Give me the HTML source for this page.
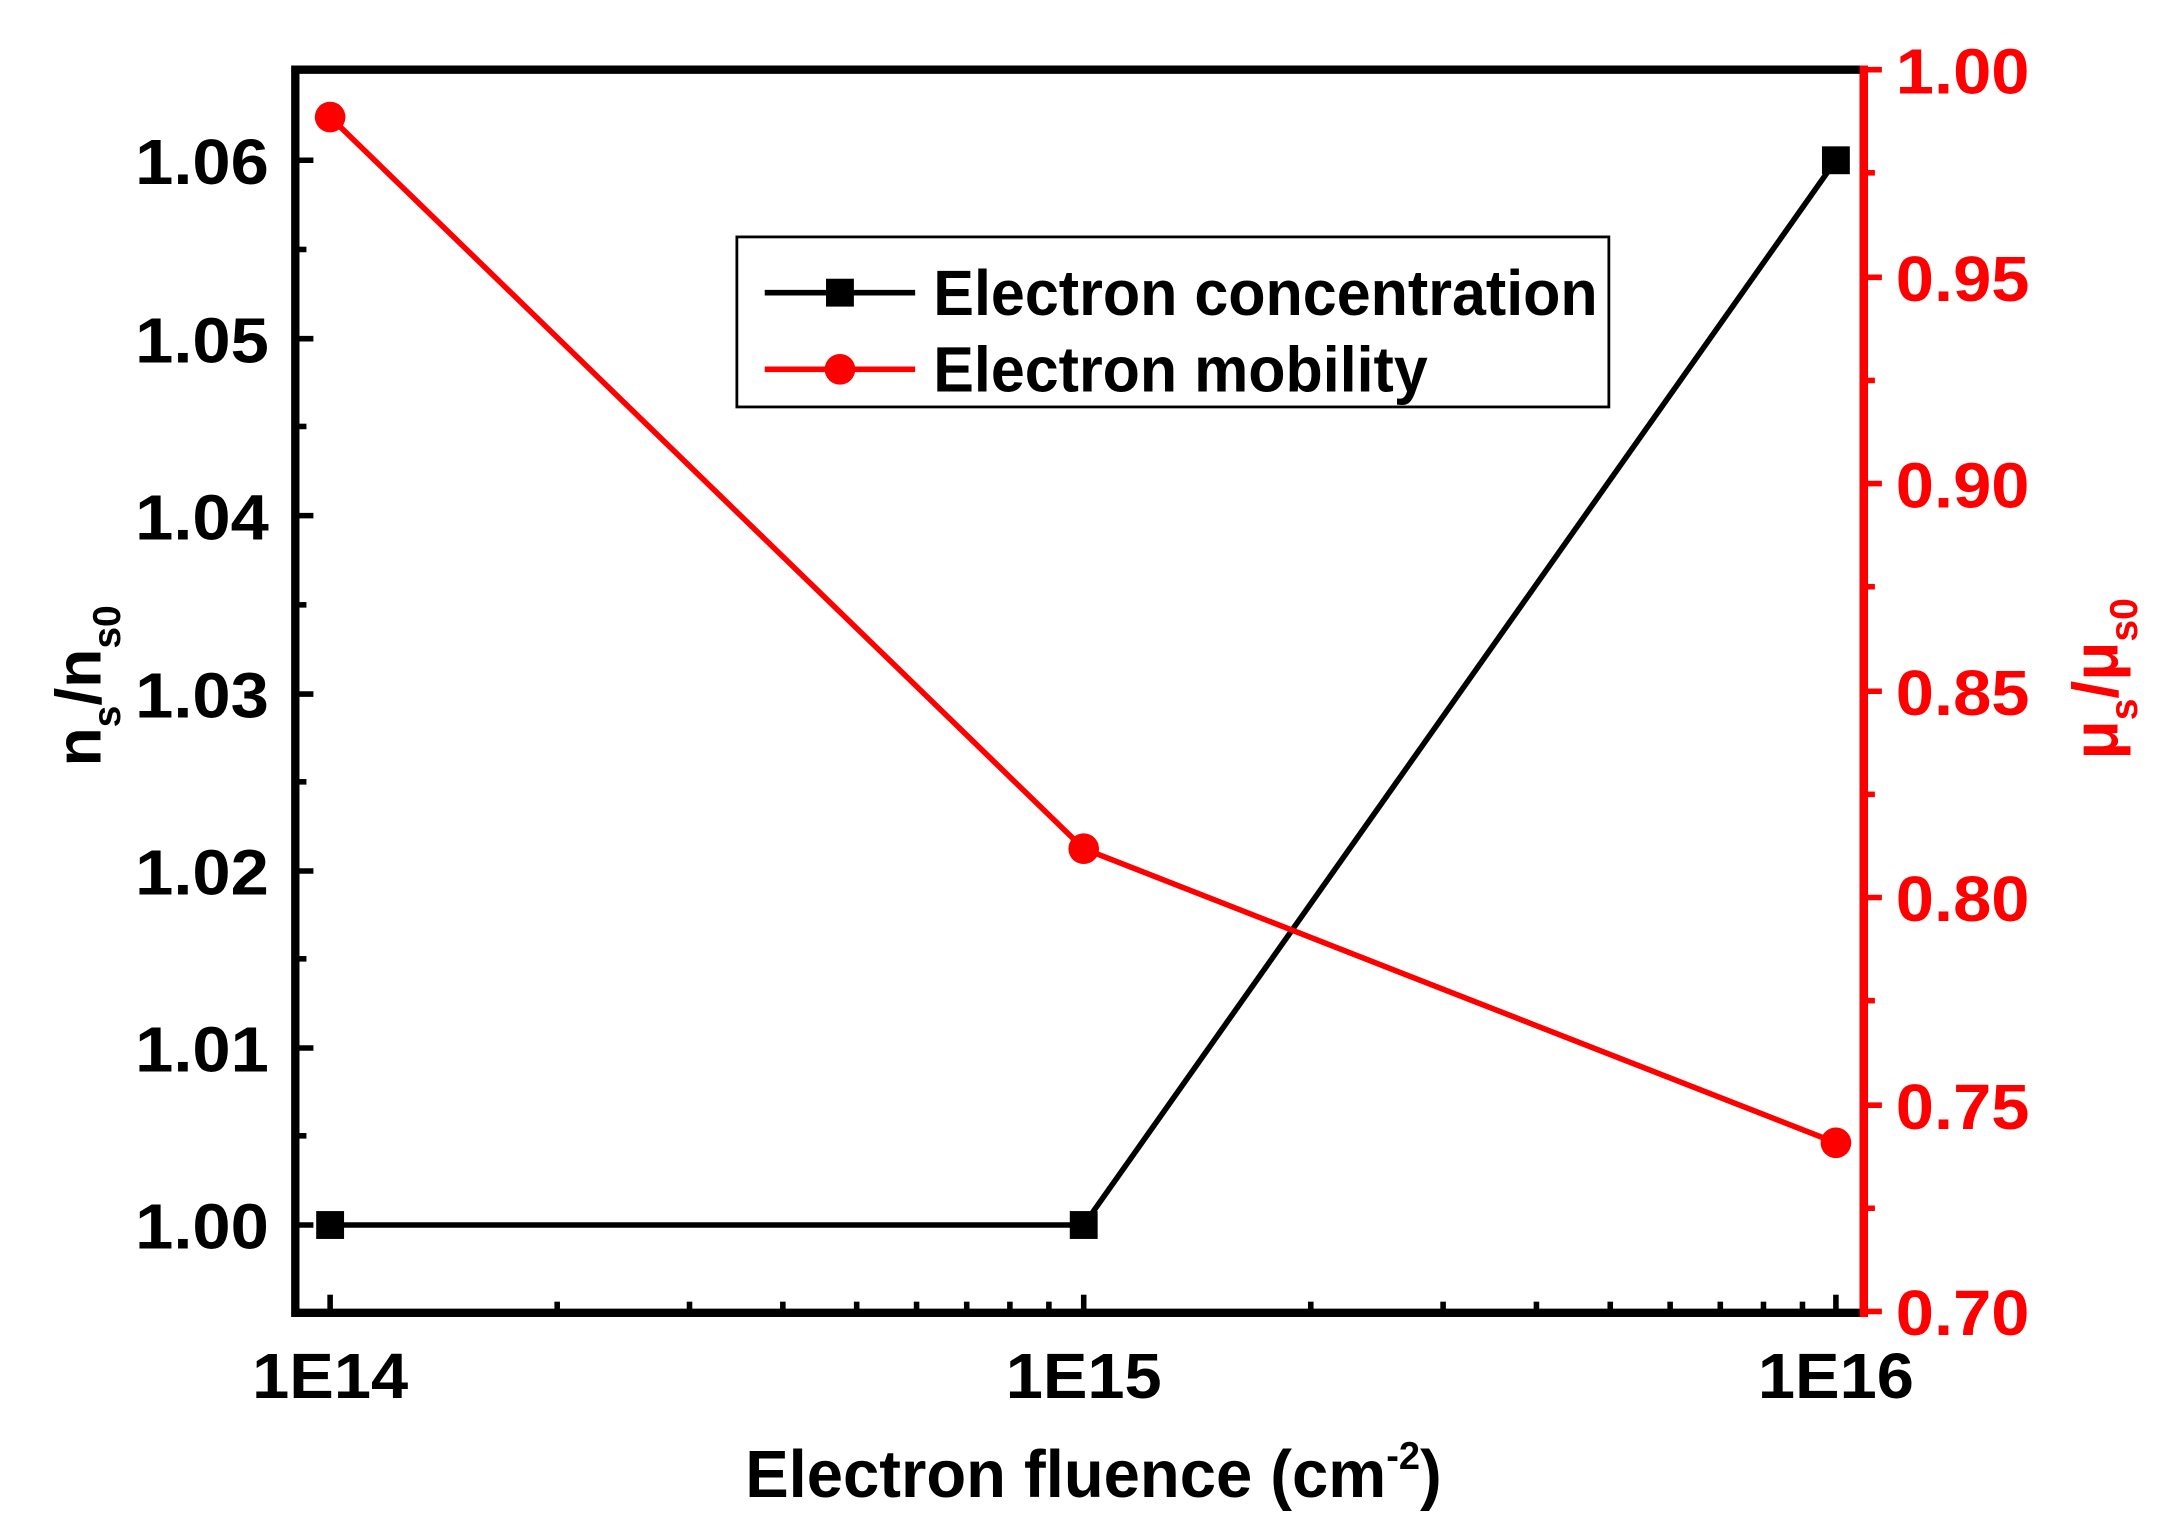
<!DOCTYPE html>
<html><head><meta charset="utf-8"><style>html,body{margin:0;padding:0;background:#fff}svg{display:block}</style></head>
<body>
<svg width="2173" height="1533" viewBox="0 0 1560 1100" preserveAspectRatio="none" xmlns="http://www.w3.org/2000/svg" font-family="Liberation Sans, Arial, sans-serif" font-weight="bold">
<rect x="212" y="50" width="1126" height="892" fill="none" stroke="#000" stroke-width="6"/>
<line x1="1338" y1="47" x2="1338" y2="945" stroke="#f00" stroke-width="6"/>
<g stroke="#000" stroke-width="4">
<line x1="212" y1="879" x2="225" y2="879"/><line x1="212" y1="752" x2="225" y2="752"/><line x1="212" y1="625" x2="225" y2="625"/><line x1="212" y1="498" x2="225" y2="498"/><line x1="212" y1="370" x2="225" y2="370"/><line x1="212" y1="243" x2="225" y2="243"/><line x1="212" y1="115" x2="225" y2="115"/>
<line x1="212" y1="815" x2="220" y2="815"/><line x1="212" y1="688" x2="220" y2="688"/><line x1="212" y1="561" x2="220" y2="561"/><line x1="212" y1="434" x2="220" y2="434"/><line x1="212" y1="306" x2="220" y2="306"/><line x1="212" y1="179" x2="220" y2="179"/>
</g>
<g stroke="#f00" stroke-width="4">
<line x1="1338" y1="941" x2="1351" y2="941"/><line x1="1338" y1="793" x2="1351" y2="793"/><line x1="1338" y1="644" x2="1351" y2="644"/><line x1="1338" y1="496" x2="1351" y2="496"/><line x1="1338" y1="347" x2="1351" y2="347"/><line x1="1338" y1="199" x2="1351" y2="199"/><line x1="1338" y1="50" x2="1351" y2="50"/>
<line x1="1338" y1="867" x2="1346" y2="867"/><line x1="1338" y1="718" x2="1346" y2="718"/><line x1="1338" y1="570" x2="1346" y2="570"/><line x1="1338" y1="421" x2="1346" y2="421"/><line x1="1338" y1="273" x2="1346" y2="273"/><line x1="1338" y1="124" x2="1346" y2="124"/>
</g>
<g stroke="#000" stroke-width="4">
<line x1="237" y1="942" x2="237" y2="929"/><line x1="778" y1="942" x2="778" y2="929"/><line x1="1318" y1="942" x2="1318" y2="929"/>
<line x1="400" y1="942" x2="400" y2="934"/><line x1="495" y1="942" x2="495" y2="934"/><line x1="562" y1="942" x2="562" y2="934"/><line x1="615" y1="942" x2="615" y2="934"/><line x1="658" y1="942" x2="658" y2="934"/><line x1="694" y1="942" x2="694" y2="934"/><line x1="725" y1="942" x2="725" y2="934"/><line x1="753" y1="942" x2="753" y2="934"/>
<line x1="941" y1="942" x2="941" y2="934"/><line x1="1036" y1="942" x2="1036" y2="934"/><line x1="1103" y1="942" x2="1103" y2="934"/><line x1="1156" y1="942" x2="1156" y2="934"/><line x1="1199" y1="942" x2="1199" y2="934"/><line x1="1235" y1="942" x2="1235" y2="934"/><line x1="1266" y1="942" x2="1266" y2="934"/><line x1="1294" y1="942" x2="1294" y2="934"/>
</g>
<g font-size="46" fill="#000" text-anchor="end">
<text x="193" y="896" textLength="96" lengthAdjust="spacingAndGlyphs">1.00</text>
<text x="193" y="769" textLength="96" lengthAdjust="spacingAndGlyphs">1.01</text>
<text x="193" y="642" textLength="96" lengthAdjust="spacingAndGlyphs">1.02</text>
<text x="193" y="515" textLength="96" lengthAdjust="spacingAndGlyphs">1.03</text>
<text x="193" y="387" textLength="96" lengthAdjust="spacingAndGlyphs">1.04</text>
<text x="193" y="260" textLength="96" lengthAdjust="spacingAndGlyphs">1.05</text>
<text x="193" y="132" textLength="96" lengthAdjust="spacingAndGlyphs">1.06</text>
</g>
<g font-size="46" fill="#f00">
<text x="1361" y="958" textLength="96" lengthAdjust="spacingAndGlyphs">0.70</text>
<text x="1361" y="810" textLength="96" lengthAdjust="spacingAndGlyphs">0.75</text>
<text x="1361" y="661" textLength="96" lengthAdjust="spacingAndGlyphs">0.80</text>
<text x="1361" y="513" textLength="96" lengthAdjust="spacingAndGlyphs">0.85</text>
<text x="1361" y="364" textLength="96" lengthAdjust="spacingAndGlyphs">0.90</text>
<text x="1361" y="216" textLength="96" lengthAdjust="spacingAndGlyphs">0.95</text>
<text x="1361" y="67" textLength="96" lengthAdjust="spacingAndGlyphs">1.00</text>
</g>
<g font-size="46" fill="#000" text-anchor="middle">
<text x="237" y="1003" textLength="112" lengthAdjust="spacingAndGlyphs">1E14</text>
<text x="778" y="1003" textLength="112" lengthAdjust="spacingAndGlyphs">1E15</text>
<text x="1318" y="1003" textLength="112" lengthAdjust="spacingAndGlyphs">1E16</text>
</g>
<text x="535" y="1074" font-size="48" fill="#000" textLength="500" lengthAdjust="spacingAndGlyphs">Electron fluence (cm<tspan dy="-20" font-size="28">-2</tspan><tspan dy="20">)</tspan></text>
<text transform="translate(72,550) rotate(-90)" font-size="46" fill="#000">n<tspan dy="14" font-size="28">s</tspan><tspan dy="-14">/n</tspan><tspan dy="14" font-size="28">s0</tspan></text>
<text transform="translate(1520,545) rotate(-90)" font-size="46" fill="#f00">μ<tspan dy="14" font-size="28">s</tspan><tspan dy="-14">/μ</tspan><tspan dy="14" font-size="28">s0</tspan></text>
<polyline points="237,879 778,879 1318,115" fill="none" stroke="#000" stroke-width="4"/>
<polyline points="237,84 778,609 1318,820" fill="none" stroke="#f00" stroke-width="4"/>
<g fill="#000"><rect x="227" y="869" width="20" height="20"/><rect x="768" y="869" width="20" height="20"/><rect x="1308" y="105" width="20" height="20"/></g>
<g fill="#f00"><circle cx="237" cy="84" r="11"/><circle cx="778" cy="609" r="11"/><circle cx="1318" cy="820" r="11"/></g>
<rect x="529" y="170" width="626" height="122" fill="#fff" stroke="#000" stroke-width="2"/>
<line x1="549" y1="210" x2="657" y2="210" stroke="#000" stroke-width="4"/>
<rect x="593" y="200" width="20" height="20" fill="#000"/>
<line x1="549" y1="265" x2="657" y2="265" stroke="#f00" stroke-width="4"/>
<circle cx="603" cy="265" r="11" fill="#f00"/>
<text x="670" y="226" font-size="46" fill="#000" textLength="477" lengthAdjust="spacingAndGlyphs">Electron concentration</text>
<text x="670" y="281" font-size="46" fill="#000" textLength="355" lengthAdjust="spacingAndGlyphs">Electron mobility</text>
</svg>
</body></html>
